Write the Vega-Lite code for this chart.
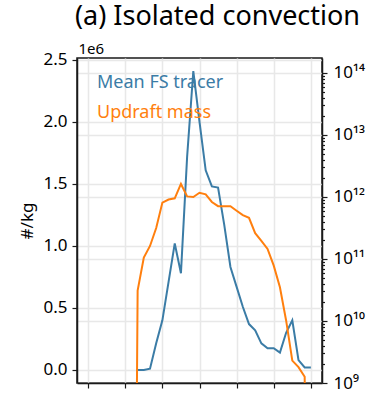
{
  "$schema": "https://vega.github.io/schema/vega-lite/v6.json",
  "width": 245,
  "height": 325,
  "autosize": {"type": "none"},
  "padding": {"left": 77, "top": 58, "right": 47, "bottom": 17},
  "background": "white",
  "title": {
    "text": "(a) Isolated convection",
    "font": "Noto Sans",
    "fontSize": 27,
    "fontWeight": "normal",
    "color": "black",
    "anchor": "middle",
    "frame": "group",
    "baseline": "alphabetic",
    "offset": -11,
    "dx": 18
  },
  "data": {
    "values": [
      {"t": 1.1667, "tracer": null, "updraft": 0.001},
      {"t": 1.3333, "tracer": 0, "updraft": 3.09e10},
      {"t": 1.5, "tracer": 0, "updraft": 1.05e11},
      {"t": 1.6667, "tracer": 10000, "updraft": 1.62e11},
      {"t": 1.8333, "tracer": 215000, "updraft": 3.16e11},
      {"t": 2.0, "tracer": 400000, "updraft": 8.1e11},
      {"t": 2.1667, "tracer": 710000, "updraft": 9.1e11},
      {"t": 2.3333, "tracer": 1020000, "updraft": 9.5e11},
      {"t": 2.5, "tracer": 780000, "updraft": 1.62e12},
      {"t": 2.6667, "tracer": 1720000, "updraft": 1.02e12},
      {"t": 2.8333, "tracer": 2410000, "updraft": 1.0e12},
      {"t": 3.0, "tracer": 2000000, "updraft": 1.17e12},
      {"t": 3.1667, "tracer": 1610000, "updraft": 1.1e12},
      {"t": 3.3333, "tracer": 1480000, "updraft": 8.3e11},
      {"t": 3.5, "tracer": 1470000, "updraft": 7.1e11},
      {"t": 3.6667, "tracer": 1170000, "updraft": 7.1e11},
      {"t": 3.8333, "tracer": 830000, "updraft": 7.1e11},
      {"t": 4.0, "tracer": 670000, "updraft": 6.0e11},
      {"t": 4.1667, "tracer": 510000, "updraft": 5.1e11},
      {"t": 4.3333, "tracer": 370000, "updraft": 4.6e11},
      {"t": 4.5, "tracer": 320000, "updraft": 2.6e11},
      {"t": 4.6667, "tracer": 215000, "updraft": 1.95e11},
      {"t": 4.8333, "tracer": 175000, "updraft": 1.45e11},
      {"t": 5.0, "tracer": 175000, "updraft": 7.8e10},
      {"t": 5.1667, "tracer": 140000, "updraft": 3.5e10},
      {"t": 5.3333, "tracer": 300000, "updraft": 1.02e10},
      {"t": 5.5, "tracer": 400000, "updraft": 2.3e9},
      {"t": 5.6667, "tracer": 80000, "updraft": 1.8e9},
      {"t": 5.8333, "tracer": 20000, "updraft": 1.26e9},
      {"t": 6.0, "tracer": 20000, "updraft": 0.001}
    ]
  },
  "encoding": {
    "x": {
      "field": "t",
      "type": "quantitative",
      "scale": {"domain": [-0.3, 6.3], "nice": false, "zero": false},
      "axis": {
        "values": [0, 1, 2, 3, 4, 5, 6],
        "labels": false,
        "title": null,
        "grid": true
      }
    }
  },
  "layer": [
    {
      "mark": {"type": "line", "strokeWidth": 2, "clip": true},
      "encoding": {
        "y": {
          "field": "tracer",
          "type": "quantitative",
          "scale": {"domain": [-105000, 2515000], "nice": false, "zero": false},
          "axis": {
            "orient": "left",
            "values": [0, 500000, 1000000, 1500000, 2000000, 2500000],
            "labelExpr": "format(datum.value / 1e6, '.1f')",
            "title": "#/kg",
            "titlePadding": 6,
            "grid": true
          }
        },
        "color": {
          "datum": "Mean FS tracer",
          "type": "nominal",
          "scale": {"domain": ["Mean FS tracer", "Updraft mass"], "range": ["#3b7ca6", "#ff7f0e"]},
          "legend": {
            "orient": "none",
            "legendX": 2,
            "legendY": 16,
            "title": null,
            "padding": 0,
            "symbolSize": 0,
            "symbolOpacity": 0,
            "symbolStrokeWidth": 0,
            "labelOffset": 0,
            "labelFont": "Noto Sans",
            "labelFontSize": 18,
            "rowPadding": 12,
            "labelLimit": 300,
            "encode": {"labels": {"update": {"fill": {"scale": "color", "field": "value"}}}}
          }
        }
      }
    },
    {
      "mark": {"type": "line", "strokeWidth": 2, "clip": true},
      "encoding": {
        "y": {
          "field": "updraft",
          "type": "quantitative",
          "scale": {"type": "log", "domain": [1e9, 1.74e14], "nice": false},
          "axis": {
            "orient": "right",
            "values": [1e9, 2e9, 3e9, 4e9, 5e9, 6e9, 7e9, 8e9, 9e9,
                       1e10, 2e10, 3e10, 4e10, 5e10, 6e10, 7e10, 8e10, 9e10,
                       1e11, 2e11, 3e11, 4e11, 5e11, 6e11, 7e11, 8e11, 9e11,
                       1e12, 2e12, 3e12, 4e12, 5e12, 6e12, 7e12, 8e12, 9e12,
                       1e13, 2e13, 3e13, 4e13, 5e13, 6e13, 7e13, 8e13, 9e13, 1e14],
            "labelExpr": "abs(log(datum.value) / LN10 - round(log(datum.value) / LN10)) > 1e-6 ? '' : ['10⁹', '10¹⁰', '10¹¹', '10¹²', '10¹³', '10¹⁴'][round(log(datum.value) / LN10) - 9]",
            "labelOverlap": false,
            "labelPadding": 6,
            "tickSize": {"condition": {"test": "abs(log(datum.value) / LN10 - round(log(datum.value) / LN10)) < 1e-6", "value": 5}, "value": 2.5},
            "gridOpacity": {"condition": {"test": "abs(log(datum.value) / LN10 - round(log(datum.value) / LN10)) < 1e-6", "value": 1}, "value": 0},
            "grid": true,
            "title": "1e6",
            "titleAngle": 0,
            "titleX": -244,
            "titleY": -5,
            "titleAlign": "left",
            "titleBaseline": "alphabetic",
            "titleFontSize": 15
          }
        },
        "color": {"datum": "Updraft mass", "type": "nominal"}
      }
    }
  ],
  "resolve": {"scale": {"y": "independent"}},
  "config": {
    "font": "Noto Sans",
    "view": {"stroke": "#1a1a1a", "strokeWidth": 1.5},
    "axis": {
      "domainColor": "#1a1a1a",
      "domainWidth": 1.5,
      "tickColor": "#1a1a1a",
      "tickWidth": 1.2,
      "tickSize": 5,
      "labelFont": "Noto Sans",
      "labelFontSize": 17,
      "labelColor": "black",
      "labelPadding": 5,
      "titleFont": "Noto Sans",
      "titleFontSize": 17,
      "titleFontWeight": "normal",
      "titleColor": "black",
      "gridColor": "#e8e8e8",
      "gridWidth": 1.5
    }
  }
}
